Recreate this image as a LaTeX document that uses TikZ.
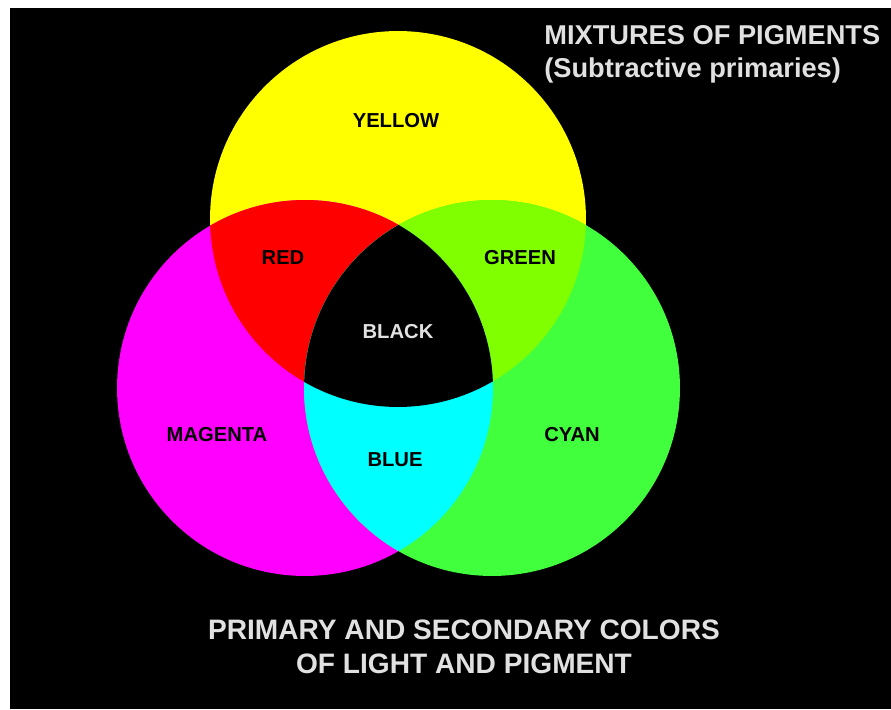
\documentclass[tikz,border=0pt]{standalone}
\usepackage{fontspec}
\setmainfont{Liberation Sans}
\definecolor{pyellow}{RGB}{255,255,0}
\definecolor{pmagenta}{RGB}{255,0,255}
\definecolor{pgreen}{RGB}{66,255,62}
\definecolor{pred}{RGB}{255,0,0}
\definecolor{pcyan}{RGB}{0,255,255}
\definecolor{lime}{RGB}{128,255,0}
\definecolor{ltext}{RGB}{225,225,225}

\begin{document}
\begin{tikzpicture}[x=0.02cm, y=-0.02cm,
    tag/.style={font=\bfseries\fontsize{11.5}{13}\selectfont, text=black, inner sep=0pt},
    capt/.style={font=\bfseries\fontsize{15.5}{18}\selectfont, text=ltext, inner sep=0pt}]
    \useasboundingbox (0,0) rectangle (891,709);
    \def\rad{3.76cm}

    % Background
    \fill[white] (0,0) rectangle (891,709);
    \fill[black] (10,8) rectangle (891,709);

    % Circles
    \coordinate (cy) at (398,219);
    \coordinate (cm) at (305,388);
    \coordinate (cg) at (492,388);
    \fill[pyellow] (cy) circle[radius=\rad];
    \fill[pmagenta] (cm) circle[radius=\rad];
    \fill[pgreen] (cg) circle[radius=\rad];

    % Overlaps
    \begin{scope}
        \clip (cy) circle[radius=\rad];
        \fill[pred] (cm) circle[radius=\rad];
        \fill[lime] (cg) circle[radius=\rad];
    \end{scope}
    \begin{scope}
        \clip (cm) circle[radius=\rad];
        \fill[pcyan] (cg) circle[radius=\rad];
        \clip (cy) circle[radius=\rad];
        \fill[black] (cg) circle[radius=\rad];
    \end{scope}

    % Colour names
    \node[tag] (yellow) at (396,121) {YELLOW};
    \node[tag] (red) at (283,258) {RED};
    \node[tag] (green) at (520,258) {GREEN};
    \node[tag, text=ltext] (black) at (398,332) {BLACK};
    \node[tag] (magenta) at (217,435) {MAGENTA};
    \node[tag] (blue) at (395,460) {BLUE};
    \node[tag] (cyan) at (572,435) {CYAN};

    % Titles
    \node[capt, anchor=base west] (title) at (544,45) {MIXTURES OF PIGMENTS};
    \node[capt, anchor=base west] (subtitle) at (544,78) {(Subtractive primaries)};
    \node[capt, anchor=base, font=\bfseries\fontsize{16}{18}\selectfont] (caption) at (464,639) {PRIMARY AND SECONDARY COLORS};
    \node[capt, anchor=base, font=\bfseries\fontsize{16}{18}\selectfont] (caption2) at (464,673) {OF LIGHT AND PIGMENT};
\end{tikzpicture}
\end{document}
